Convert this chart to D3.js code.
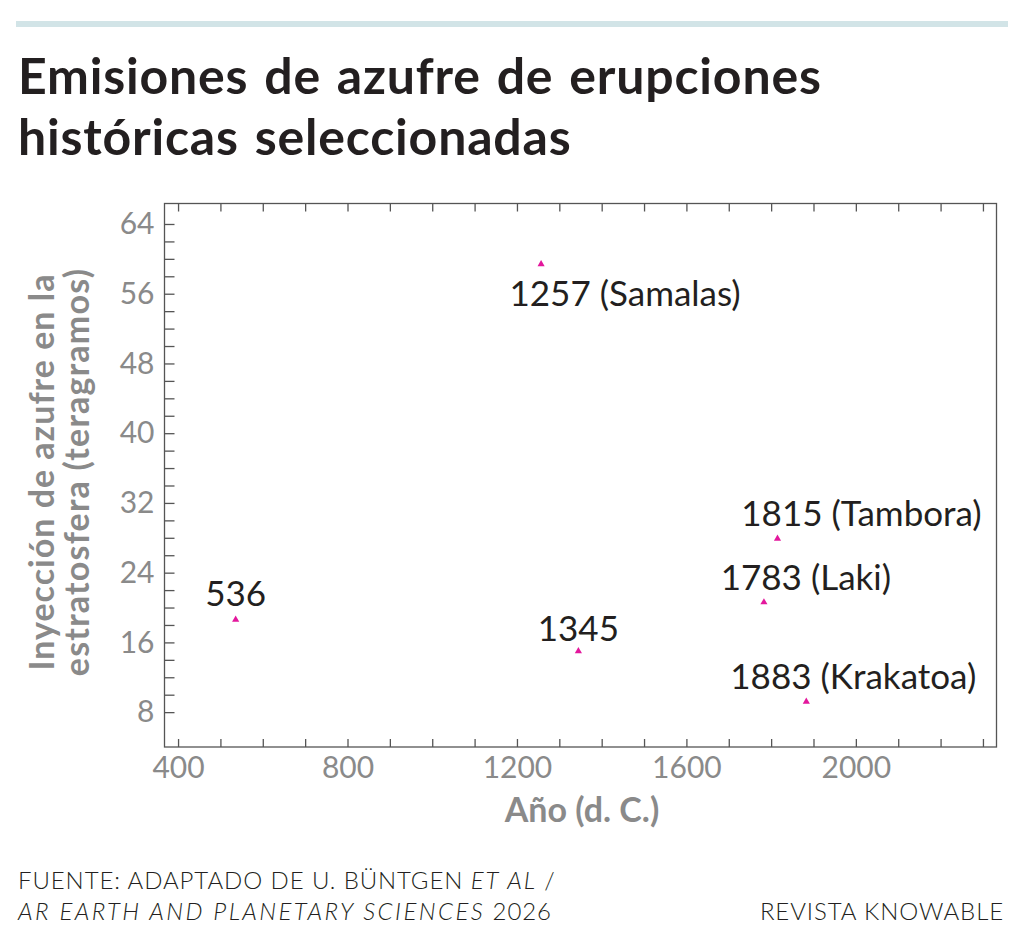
<!DOCTYPE html>
<html>
<head>
<meta charset="utf-8">
<script src="https://cdn.jsdelivr.net/npm/d3@7"></script>
<style>
  body { margin: 0; background: #fff; }
  svg { display: block; font-family: Lato, "Open Sans", sans-serif; }
  .axis path, .axis line { stroke: #555; stroke-width: 1.3; }
  .axis text { fill: #8a8a8a; font-size: 30px; font-family: Lato, sans-serif; }
</style>
</head>
<body>
<div id="chart-area"></div>
<script>

// data
var years  = [536, 1257, 1345, 1783, 1815, 1883];
var sulfur = [18.6, 59.4, 15.0, 20.6, 27.9, 9.2];   // teragramos
var names  = ["", "Samalas", "", "Laki", "Tambora", "Krakatoa"];

var xTicks = [400, 800, 1200, 1600, 2000];
var yTicks = [8, 16, 24, 32, 40, 48, 56, 64];

// where each label sits relative to its marker
var labelPos = {
  536:  {dx: 0,  dy: -14},
  1257: {dx: 84, dy: 42},
  1345: {dx: 0,  dy: -10},
  1783: {dx: 42, dy: -12},
  1815: {dx: 84, dy: -13},
  1883: {dx: 47, dy: -13}
};

var total_width = 1024;
var total_height = 938;

var svg = d3.select('#chart-area').append('svg')
            .attr("width", total_width)
            .attr("height", total_height);

svg.append('rect').attr("width", total_width).attr("height", total_height).attr("fill", "#fff");

// top rule
svg.append('rect')
   .attr("x", 16).attr("y", 21)
   .attr("width", 992).attr("height", 6)
   .attr("fill", "#d2e4e7");

var title = svg.append('text')
   .attr("x", 18)
   .attr("font-size", "50px")
   .attr("font-weight", 700)
   .attr("letter-spacing", "0.8px")
   .attr("word-spacing", "3px")
   .attr("fill", "#231f20");
title.append('tspan').attr("x", 18).attr("y", 94).text("Emisiones de azufre de erupciones");
title.append('tspan').attr("x", 18).attr("y", 155).text("históricas seleccionadas");

var plot = {left: 164.5, right: 996.5, top: 203.5, bottom: 747};

var x = d3.scaleLinear().domain([368, 2332]).range([plot.left, plot.right]);
var y = d3.scaleLinear().domain([4, 66.35]).range([plot.bottom, plot.top]);

var data = years.map(function(yr, i){
  return {year: yr, rate: sulfur[i], name: names[i]};
});

// frame
svg.append('rect')
   .attr("x", plot.left).attr("y", plot.top)
   .attr("width", plot.right - plot.left)
   .attr("height", plot.bottom - plot.top)
   .attr("fill", "none")
   .attr("stroke", "#555")
   .attr("stroke-width", 1.3);

var minorX = d3.range(400, 2301, 100);
var minorY = d3.range(8, 65, 2);

var xAxis = d3.axisBottom(x)
              .tickValues(minorX)
              .tickSizeInner(-8).tickSizeOuter(0)
              .tickPadding(10)
              .tickFormat(function(d){ return xTicks.indexOf(d) >= 0 ? d : ""; });

var xTop = d3.axisTop(x)
             .tickValues(minorX)
             .tickSizeInner(-8).tickSizeOuter(0)
             .tickFormat("");

var yAxis = d3.axisLeft(y)
              .tickValues(minorY)
              .tickSizeInner(-10).tickSizeOuter(0)
              .tickPadding(10)
              .tickFormat(function(d){ return yTicks.indexOf(d) >= 0 ? d : ""; });

svg.append('g').attr("class", "axis")
   .attr("transform", "translate(0," + plot.bottom + ")")
   .call(xAxis);
svg.append('g').attr("class", "axis")
   .attr("transform", "translate(0," + plot.top + ")")
   .call(xTop);
svg.append('g').attr("class", "axis")
   .attr("transform", "translate(" + plot.left + ",0)")
   .call(yAxis);

svg.selectAll('.axis .domain').remove();

// axis titles
svg.append('text')
   .attr("x", 582)
   .attr("y", 822)
   .attr("text-anchor", "middle")
   .attr("font-size", "34px")
   .attr("font-weight", 700)
   .attr("fill", "#8a8a8a")
   .text("Año (d. C.)");

var ytitle = svg.append('g')
   .attr("transform", "translate(54,472) rotate(-90)");
ytitle.append('text')
   .attr("text-anchor", "middle")
   .attr("font-size", "34px").attr("font-weight", 700).attr("fill", "#8a8a8a")
   .attr("letter-spacing", "1px")
   .text("Inyección de azufre en la");
ytitle.append('text')
   .attr("y", 35)
   .attr("text-anchor", "middle")
   .attr("font-size", "34px").attr("font-weight", 700).attr("fill", "#8a8a8a")
   .attr("letter-spacing", "1.2px")
   .text("estratosfera (teragramos)");

// markers
var tri = d3.symbol().type(d3.symbolTriangle).size(22);

svg.selectAll('.marker').data(data).enter().append('path')
   .attr("class", "marker")
   .attr("d", tri)
   .attr("transform", function(d){ return "translate(" + x(d.year) + "," + y(d.rate) + ")"; })
   .attr("fill", "#e3179c");

svg.selectAll('.labels').data(data).enter().append('text')
   .attr("class", "labels")
   .attr("x", function(d){ return x(d.year) + labelPos[d.year].dx; })
   .attr("y", function(d){ return y(d.rate) + labelPos[d.year].dy; })
   .attr("text-anchor", "middle")
   .attr("font-size", "35px")
   .attr("fill", "#231f20")
   .text(function(d){ return d.name ? d.year + " (" + d.name + ")" : d.year; });

// footer
var foot = svg.append('text')
   .attr("font-size", "24px")
   .attr("font-weight", 300)
   .attr("letter-spacing", "0.9px")
   .attr("fill", "#231f20");
var f1 = foot.append('tspan').attr("x", 18).attr("y", 889);
f1.append('tspan').text("FUENTE: ADAPTADO DE U. BÜNTGEN ");
f1.append('tspan').attr("font-style", "italic").attr("letter-spacing", "2px").text("ET AL");
f1.append('tspan').text(" /");
var f2 = foot.append('tspan').attr("x", 18).attr("y", 920);
f2.append('tspan').attr("font-style", "italic").attr("letter-spacing", "2.4px").text("AR EARTH AND PLANETARY SCIENCES");
f2.append('tspan').text(" 2026");

svg.append('text')
   .attr("x", 1004).attr("y", 920)
   .attr("text-anchor", "end")
   .attr("font-size", "24px")
   .attr("font-weight", 300)
   .attr("letter-spacing", "0.9px")
   .attr("fill", "#231f20")
   .text("REVISTA KNOWABLE");

</script>
</body>
</html>
